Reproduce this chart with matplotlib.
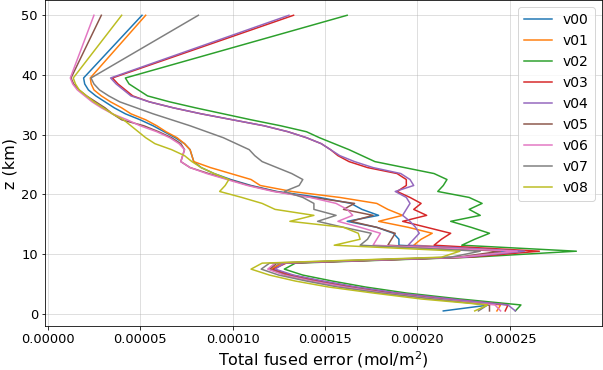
import numpy as np
import matplotlib
matplotlib.use('Agg')
import matplotlib.pyplot as plt
from matplotlib.ticker import MultipleLocator, FormatStrFormatter

# altitude levels (km): 0.5 .. 39.5 every 1 km, then top level at 50
z = np.array([0.5 + i for i in range(40)] + [50.0])

# total fused error per version, in units of 1e-5 mol/m2, listed bottom -> top
v00 = [21.4, 23.9, 21.3, 18.6, 16.4, 14.6, 13.1, 12.1, 12.6, 22.4,
       25.0, 19.0, 19.0, 18.7, 17.8, 16.2, 17.9, 17.0, 16.4, 14.7,
       12.4, 11.0, 9.9, 9.0, 8.3, 7.9, 7.8, 7.7, 7.4, 6.9,
       6.3, 5.7, 5.0, 4.2, 3.6, 3.1, 2.6, 2.2, 2.0, 1.94, 5.1]
v01 = [24.3, 24.5, 21.5, 18.7, 16.5, 14.6, 13.0, 12.05, 12.7, 22.6,
       25.5, 19.8, 20.2, 20.8, 19.5, 17.9, 19.2, 18.4, 17.8, 15.8,
       13.2, 11.5, 11.0, 9.9, 8.8, 7.9, 7.8, 7.7, 7.4, 7.0,
       6.4, 5.9, 5.3, 4.5, 4.0, 3.4, 2.9, 2.5, 2.35, 2.3, 5.3]
v02 = [25.3, 25.6, 22.3, 19.4, 17.2, 15.4, 13.8, 12.8, 13.4, 23.0,
       28.6, 22.4, 23.1, 23.9, 22.9, 21.8, 23.4, 22.8, 23.5, 22.8,
       21.1, 21.4, 21.6, 20.9, 19.3, 17.7, 17.0, 16.3, 15.5, 14.7,
       14.0, 12.6, 11.0, 9.5, 8.0, 6.6, 5.4, 4.9, 4.4, 4.2, 16.2]
v03 = [24.75, 24.9, 21.7, 18.8, 16.6, 14.8, 13.2, 12.2, 12.9, 22.8,
       26.6, 20.9, 21.3, 21.8, 20.5, 19.2, 20.5, 19.8, 20.2, 19.6,
       18.9, 19.4, 19.4, 18.9, 17.3, 16.3, 15.7, 15.3, 14.8, 14.0,
       13.0, 11.7, 10.0, 8.3, 6.8, 5.5, 4.6, 4.2, 3.8, 3.5, 13.3]
v04 = [25.3, 24.9, 21.8, 18.9, 16.7, 14.9, 13.3, 12.3, 12.8, 22.6,
       25.8, 19.5, 19.8, 20.1, 19.9, 19.6, 19.2, 19.4, 19.6, 19.4,
       18.8, 19.8, 19.6, 19.1, 17.6, 16.6, 15.8, 15.3, 14.8, 14.0,
       13.0, 11.7, 10.0, 8.3, 6.8, 5.5, 4.5, 4.1, 3.7, 3.4, 13.05]
v05 = [23.9, 23.9, 21.0, 18.3, 16.2, 14.4, 12.9, 12.0, 12.4, 22.2,
       24.5, 18.4, 18.6, 18.8, 17.8, 16.4, 17.6, 16.0, 16.6, 14.3,
       12.3, 10.9, 9.8, 8.7, 7.7, 7.2, 7.3, 7.4, 7.2, 6.7,
       6.0, 5.2, 4.0, 3.5, 3.1, 2.6, 2.1, 1.7, 1.4, 1.26, 2.9]
v06 = [24.5, 24.2, 21.0, 18.2, 16.1, 14.3, 12.8, 11.9, 12.3, 22.3,
       25.4, 17.6, 17.8, 18.0, 16.9, 15.7, 16.5, 16.2, 15.6, 14.2,
       12.2, 10.8, 9.7, 8.6, 7.7, 7.2, 7.3, 7.4, 7.1, 6.6,
       5.9, 5.0, 4.3, 3.5, 2.9, 2.4, 2.0, 1.6, 1.35, 1.22, 2.5]
v07 = [23.3, 23.8, 20.8, 18.0, 15.7, 14.0, 12.5, 11.55, 12.0, 21.8,
       23.4, 16.9, 17.3, 17.5, 16.0, 14.6, 15.6, 14.4, 14.4, 13.8,
       12.8, 13.6, 13.8, 13.2, 12.4, 11.6, 11.2, 10.9, 10.2, 9.5,
       8.6, 7.7, 6.7, 5.7, 4.8, 3.9, 3.3, 2.8, 2.5, 2.34, 8.15]
v08 = [23.1, 23.8, 20.2, 17.6, 15.2, 13.4, 12.0, 11.0, 11.6, 21.3,
       22.3, 15.5, 16.9, 16.8, 16.0, 13.1, 14.4, 12.3, 11.6, 10.5,
       9.3, 9.6, 9.8, 9.0, 8.3, 7.8, 7.4, 6.7, 5.8, 5.3,
       4.9, 4.5, 4.1, 3.5, 3.0, 2.5, 2.1, 1.7, 1.5, 1.38, 4.0]

names = ['v00', 'v01', 'v02', 'v03', 'v04', 'v05', 'v06', 'v07', 'v08']
series = [v00, v01, v02, v03, v04, v05, v06, v07, v08]

fig = plt.figure(figsize=(603 / 72, 370 / 72), dpi=72)
ax = fig.add_axes([0.0746, 0.1197, 0.9232, 0.879])

for name, vals in zip(names, series):
    ax.plot(np.array(vals) * 1e-5, z, label=name, linewidth=1.5)

ax.xaxis.set_major_locator(MultipleLocator(0.00005))
ax.xaxis.set_major_formatter(FormatStrFormatter('%.5f'))
ax.tick_params(labelsize=13)
ax.grid(True, alpha=0.5)
ax.set_xlabel('Total fused error (mol/m$^2$)', fontsize=16)
ax.set_ylabel('z (km)', fontsize=16)
ax.legend(loc='upper right', fontsize=14)

fig.savefig('out.png', dpi=72)
